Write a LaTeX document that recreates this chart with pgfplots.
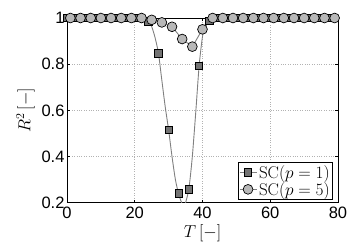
\documentclass[border=0pt]{standalone}
\usepackage{pgfplots}
\pgfplotsset{compat=1.18}
\usepackage{fontspec}
\newfontfamily\hv{Liberation Sans}
\begin{document}
\begin{tikzpicture}
\path[use as bounding box] (-67pt,-47.3pt) rectangle (287pt,202.7pt);
\begin{axis}[
  scale only axis,
  width=271pt, height=184.7pt,
  xmin=0, xmax=80, ymin=0.2, ymax=1,
  xtick={0,20,40,60,80},
  ytick={0.2,0.4,0.6,0.8,1},
  yticklabels={0.2,0.4,0.6,0.8,1},
  tick align=inside,
  major tick length=3pt,
  tick style={black, line width=0.5pt},
  axis line style={black, line width=0.7pt},
  grid=major,
  grid style={dotted, gray!60, line width=0.5pt},
  /pgf/number format/assume math mode=true,
  tick label style={font=\hv\fontsize{16.5}{18}\selectfont},
  yticklabel style={xshift=1pt},
  xticklabel style={yshift=-0.5pt},
  label style={font=\fontsize{17}{19}\selectfont},
  xlabel={$T\,[-]$},
  ylabel={$R^2\,[-]$},
  xlabel style={yshift=1pt},
  legend style={at={(0.982,0.015)}, anchor=south east, draw=black, line width=0.7pt, fill=white,
    font=\fontsize{17}{18}\selectfont, inner sep=1pt, row sep=-1.5pt},
  legend cell align=left,
]
% fitted curve for p=1
\addplot[gray, line width=0.9pt, smooth, tension=0.4, forget plot] coordinates {
(0,1) (23,1) (24,0.985) (25,0.963) (26,0.915) (27,0.847) (28,0.73) (29,0.615)
(30,0.515) (31,0.40) (32,0.30) (33,0.235) (34,0.195) (34.5,0.19) (35,0.2)
(36,0.262) (37,0.40) (38,0.59) (39,0.792) (40,0.92) (41,0.98) (42,0.995) (43,1) (80,1)
};
\addplot[only marks, mark=square*, mark size=3.7pt, mark options={fill=black!55, draw=black, line width=0.7pt}, forget plot] coordinates {
(0,1) (3,1) (6,1) (9,1) (12,1) (15,1) (18,1) (21,1) (24,0.985) (27,0.847) (30,0.515)
(33,0.241) (36,0.258) (39,0.792) (42,0.988) (45,1) (48,1) (51,1) (54,1) (57,1) (60,1)
(63,1) (66,1) (69,1) (72,1) (75,1) (78,1)
};
\addlegendimage{gray, line width=0.9pt, mark=square*, mark size=3.7pt, mark options={fill=black!55, draw=black, line width=0.7pt}}
\addlegendentry{SC$(p=1)$}
\addplot[gray, line width=0.9pt, mark=*, mark size=4.9pt, mark options={fill=black!28, draw=black, line width=0.7pt}] coordinates {
(1,1) (4,1) (7,1) (10,1) (13,1) (16,1) (19,1) (22,1) (25,0.992) (28,0.981) (31,0.962)
(34,0.909) (37,0.876) (40,0.951) (43,1) (46,1) (49,1) (52,1) (55,1) (58,1) (61,1)
(64,1) (67,1) (70,1) (73,1) (76,1) (79,1)
};
\addlegendentry{SC$(p=5)$}
\end{axis}
\end{tikzpicture}
\end{document}
